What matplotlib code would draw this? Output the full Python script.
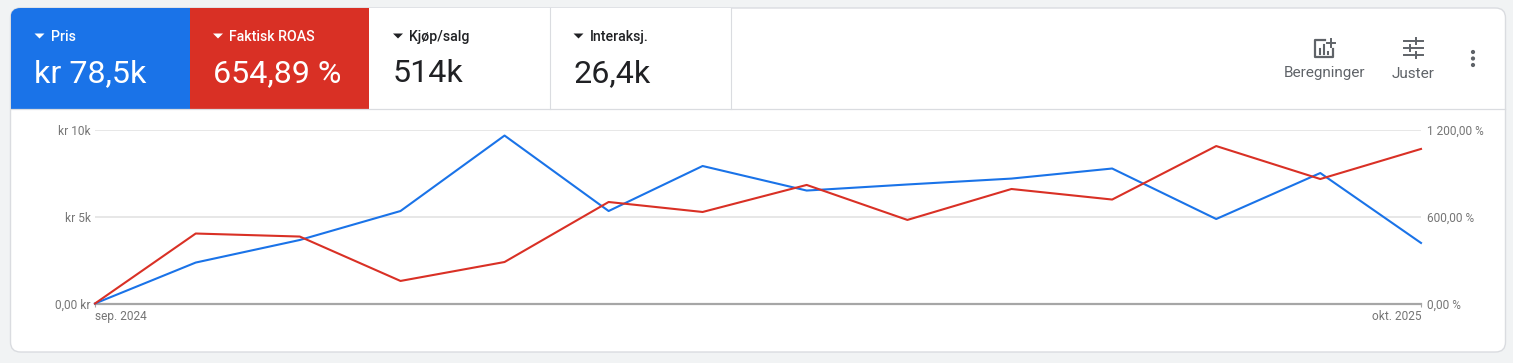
import matplotlib
matplotlib.use("Agg")
import matplotlib.pyplot as plt
import pandas as pd
from matplotlib.patches import FancyBboxPatch, Rectangle, Circle

W, H = 1513, 363

plt.rcParams['font.family'] = ['Roboto', 'DejaVu Sans']

# data
months = pd.date_range('2024-09-01', '2025-10-01', freq='MS')
pris = [0, 2360, 3660, 5330, 9680, 5330, 7925, 6510, 6860, 7200, 7780, 4870, 7520, 3490]
roas = [0, 484, 463, 156, 287, 702, 633, 820, 578, 792, 719, 1089, 861, 1069]
x_labels = ['sep. 2024', 'okt. 2025']
left_ticks = [0, 5000, 10000]
left_labels = ['0,00 kr', 'kr 5k', 'kr 10k']
right_ticks = [0, 600, 1200]
right_labels = ['0,00 %', '600,00 %', '1\u00a0200,00 %']

tile_names = ['Pris', 'Faktisk ROAS', 'Kjøp/salg', 'Interaksj.']
tile_values = ['kr 78,5k', '654,89 %', '514k', '26,4k']
tile_edges = [11, 189.5, 369, 549.5, 730.5]
tile_fill = ['#1a73e8', '#d93025', 'white', 'white']
tile_text = ['white', 'white', '#202124', '#202124']

BLUE = '#1a73e8'
RED = '#d93025'
GREY = '#757575'

fig = plt.figure(figsize=(W / 100, H / 100), dpi=100, facecolor='#f1f3f4')

# page chrome, in pixel coordinates
bg = fig.add_axes([0, 0, 1, 1])
bg.set_xlim(0, W)
bg.set_ylim(H, 0)
bg.axis('off')

card = FancyBboxPatch((10.5, 8), 1495, 344, boxstyle='round,pad=0,rounding_size=10',
                      fc='white', ec='#dadce0', lw=1)
bg.add_patch(card)

for i in range(4):
    x0, x1 = tile_edges[i], tile_edges[i + 1]
    r = Rectangle((x0, 8), x1 - x0, 101, fc=tile_fill[i], ec='none')
    bg.add_patch(r)
    r.set_clip_path(card)
    if i >= 2:
        bg.plot([x1, x1], [8, 109], color='#dadce0', lw=0.8)
    tx = x0 + 23.5 if i < 2 else x0 + 24
    bg.fill([tx, tx + 10, tx + 5], [33.5, 33.5, 38.5], color=tile_text[i], lw=0)
    bg.text(tx + 16, 37, tile_names[i], color=tile_text[i], fontsize=10.2,
            fontweight=500, va='center', ha='left')
    bg.text(tx, 73.5, tile_values[i], color=tile_text[i], fontsize=23.2,
            va='center', ha='left')

bg.plot([11, 1505], [109, 109], color='#dadce0', lw=0.9)

# icon: Beregninger
ICON = '#5f6368'
bg.plot([1325, 1315, 1315, 1333, 1333], [40, 40, 57, 57, 49], color=ICON, lw=1.6)
for bx, b0 in [(1319.5, 49), (1323.5, 45), (1328, 52)]:
    bg.plot([bx, bx], [b0, 54], color=ICON, lw=1.5)
bg.plot([1331, 1331], [39, 47], color=ICON, lw=1.4)
bg.plot([1327, 1335], [43, 43], color=ICON, lw=1.4)
bg.text(1324.5, 73.5, 'Beregninger', color=ICON, fontsize=11, ha='center', va='center')

# icon: Juster
for yy, a, b, c, d, k in [(41, 1404, 1414, 1417, 1423, 1417),
                          (48, 1404, 1408, 1411, 1423, 1411),
                          (55, 1404, 1414, 1417, 1423, 1417)]:
    bg.plot([a, b], [yy, yy], color=ICON, lw=1.4)
    bg.plot([c, d], [yy, yy], color=ICON, lw=1.4)
    bg.plot([k - 1.5, k - 1.5], [yy - 3, yy + 3], color=ICON, lw=1.4)
bg.text(1413, 73.5, 'Juster', color=ICON, fontsize=11, ha='center', va='center')

# more menu
for yy in [52, 58.5, 65]:
    bg.add_patch(Circle((1473, yy), 2.1, fc=ICON, ec='none'))

# chart
ax = fig.add_axes([95 / W, (H - 303.5) / H, 1326 / W, 173.5 / H])
ax.patch.set_alpha(0)
ax.set_xlim(months[0], months[-1])
ax.set_ylim(0, 10000)
for s in ['top', 'left', 'right']:
    ax.spines[s].set_visible(False)
ax.spines['bottom'].set_color('#a6a6a6')
ax.spines['bottom'].set_linewidth(1.6)
ax.grid(axis='y', color='#e0e0e0', lw=1.1)
ax.set_axisbelow(True)
ax.set_yticks(left_ticks, left_labels)
ax.set_xticks([months[0], months[-1]], x_labels)
ax.tick_params(axis='y', length=0, labelsize=8.6, labelcolor=GREY, pad=3.2)
ax.tick_params(axis='x', length=2, width=0.8, color='#a6a6a6', labelsize=8.6,
               labelcolor=GREY, pad=2.5)
xl = ax.get_xticklabels()
xl[0].set_ha('left')
xl[1].set_ha('right')
ax.plot(months, pris, color=BLUE, lw=1.5, clip_on=False, zorder=3)

ax2 = ax.twinx()
ax2.patch.set_alpha(0)
ax2.set_ylim(0, 1200)
for s in ax2.spines.values():
    s.set_visible(False)
ax2.set_yticks(right_ticks, right_labels)
ax2.tick_params(axis='y', length=0, labelsize=8.6, labelcolor=GREY, pad=4)
ax2.plot(months, roas, color=RED, lw=1.5, clip_on=False, zorder=4)

fig.savefig('out.png', dpi=100)
